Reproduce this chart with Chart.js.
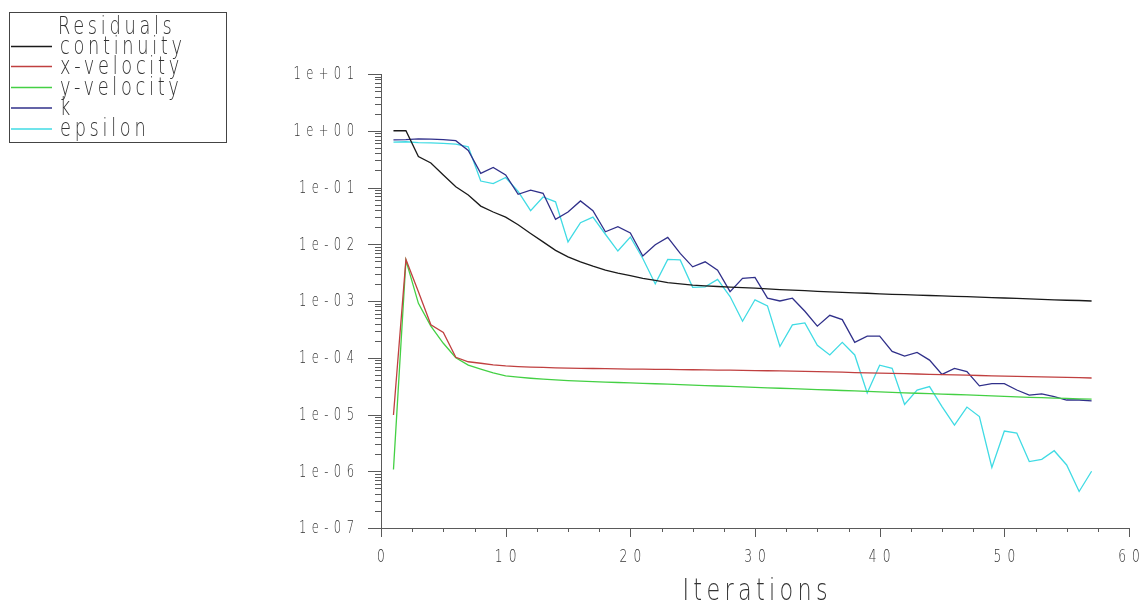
<!DOCTYPE html>
<html>
<head>
<meta charset="utf-8">
<script src="https://cdn.jsdelivr.net/npm/chart.js@4.4.1/dist/chart.umd.min.js"></script>
<style>
  html, body { margin: 0; padding: 0; background: #ffffff; }
  #wrap { width: 1143px; height: 605px; position: relative; }
  canvas { display: block; }
</style>
</head>
<body>
<div id="wrap"><canvas id="residuals" width="1143" height="605"></canvas></div>
<script>
// Solver residual history, one value per iteration
const iterations = [1,2,3,4,5,6,7,8,9,10,11,12,13,14,15,16,17,18,19,20,21,22,23,24,25,26,27,28,29,30,
  31,32,33,34,35,36,37,38,39,40,41,42,43,44,45,46,47,48,49,50,51,52,53,54,55,56,57];

const continuity = [1.0,1.0,0.35,0.27,0.166,0.103,0.074,0.047,0.037,0.030,
  0.022,0.0155,0.011,0.0078,0.006,0.0049,0.0041,0.0035,0.0031,0.0028,
  0.0025,0.0023,0.0021,0.0020,0.0019,0.00185,0.0018,0.00176,0.00172,0.00168,
  0.00163,0.00159,0.00155,0.00152,0.00148,0.00145,0.00142,0.00139,0.00137,0.00134,
  0.00131,0.00129,0.00127,0.00125,0.00123,0.00121,0.00119,0.00117,0.00115,0.00113,
  0.00111,0.00109,0.00107,0.00105,0.00103,0.00102,0.001];

const xVelocity = [9.8e-6,5.4e-3,1.45e-3,3.8e-4,2.8e-4,1.02e-4,8.5e-5,8.0e-5,7.5e-5,7.2e-5,
  7.0e-5,6.85e-5,6.75e-5,6.65e-5,6.58e-5,6.52e-5,6.46e-5,6.41e-5,6.36e-5,6.32e-5,
  6.29e-5,6.26e-5,6.23e-5,6.19e-5,6.15e-5,6.11e-5,6.07e-5,6.03e-5,5.99e-5,5.95e-5,
  5.9e-5,5.85e-5,5.8e-5,5.75e-5,5.7e-5,5.63e-5,5.56e-5,5.49e-5,5.42e-5,5.35e-5,
  5.29e-5,5.23e-5,5.17e-5,5.11e-5,5.05e-5,4.99e-5,4.93e-5,4.87e-5,4.81e-5,4.75e-5,
  4.7e-5,4.65e-5,4.6e-5,4.55e-5,4.5e-5,4.45e-5,4.4e-5];

const yVelocity = [1.07e-6,5.2e-3,9.1e-4,3.6e-4,1.8e-4,1.0e-4,7.4e-5,6.3e-5,5.4e-5,4.8e-5,
  4.55e-5,4.35e-5,4.2e-5,4.07e-5,3.96e-5,3.87e-5,3.8e-5,3.73e-5,3.66e-5,3.6e-5,
  3.54e-5,3.48e-5,3.42e-5,3.36e-5,3.3e-5,3.24e-5,3.18e-5,3.12e-5,3.06e-5,3.0e-5,
  2.95e-5,2.9e-5,2.85e-5,2.8e-5,2.75e-5,2.7e-5,2.65e-5,2.6e-5,2.55e-5,2.5e-5,
  2.45e-5,2.41e-5,2.37e-5,2.33e-5,2.29e-5,2.25e-5,2.21e-5,2.17e-5,2.13e-5,2.09e-5,
  2.05e-5,2.01e-5,1.98e-5,1.95e-5,1.92e-5,1.89e-5,1.86e-5];

const kResidual = [0.69,0.70,0.72,0.71,0.70,0.67,0.45,0.178,0.226,0.166,
  0.076,0.090,0.079,0.0275,0.037,0.058,0.039,0.0166,0.0204,0.0158,
  0.0062,0.0098,0.0132,0.0069,0.0040,0.0049,0.0035,0.00146,0.0025,0.0026,
  0.00112,0.0010,0.00112,0.00066,0.00036,0.00056,0.00047,0.000187,0.00024,0.00024,
  0.000129,0.000107,0.000124,9.1e-5,5.1e-5,6.5e-5,5.7e-5,3.2e-5,3.5e-5,3.5e-5,
  2.7e-5,2.2e-5,2.3e-5,2.06e-5,1.8e-5,1.8e-5,1.74e-5];

const epsilonResidual = [0.63,0.64,0.62,0.61,0.60,0.58,0.52,0.13,0.117,0.15,
  0.085,0.039,0.068,0.056,0.011,0.024,0.030,0.015,0.0076,0.0134,
  0.0056,0.0020,0.0054,0.0053,0.00174,0.00178,0.0024,0.0012,0.00044,0.00105,
  0.00082,0.000158,0.00038,0.00041,0.000166,0.000112,0.000187,0.000112,2.4e-5,7.4e-5,
  6.5e-5,1.5e-5,2.7e-5,3.1e-5,1.38e-5,6.5e-6,1.35e-5,9.2e-6,1.17e-6,5.1e-6,
  4.7e-6,1.48e-6,1.62e-6,2.3e-6,1.29e-6,4.4e-7,1.0e-6];

const seriesNames = ['continuity', 'x-velocity', 'y-velocity', 'k', 'epsilon'];
const seriesColors = ['#1a1a1a', '#c04040', '#44d044', '#30308a', '#40dbe4'];
const seriesValues = [continuity, xVelocity, yVelocity, kResidual, epsilonResidual];

const xTickValues = [0, 10, 20, 30, 40, 50, 60];
const xTickLabels = ['0', '10', '20', '30', '40', '50', '60'];
const yTickValues = [1e1, 1e0, 1e-1, 1e-2, 1e-3, 1e-4, 1e-5, 1e-6, 1e-7];
const yTickLabels = ['1e+01', '1e+00', '1e-01', '1e-02', '1e-03', '1e-04', '1e-05', '1e-06', '1e-07'];
const legendTitle = 'Residuals';
const xAxisTitle = 'Iterations';

const AXIS_COLOR = '#5a5a5a';
const TEXT_COLOR = '#333333';
const FONT_FAMILY = "'DejaVu Sans', sans-serif";

// Thin, condensed, letter-spaced text in the style of a stroke plotter font
function drawPlotText(ctx, str, x, y, opts) {
  const size = opts.size, sx = opts.sx, ls = opts.ls || 0;
  ctx.save();
  ctx.font = (opts.weight || '200') + ' ' + size + 'px ' + FONT_FAMILY;
  ctx.letterSpacing = ls + 'px';
  ctx.fillStyle = TEXT_COLOR;
  ctx.textBaseline = opts.baseline || 'middle';
  ctx.textAlign = 'left';
  const w = (ctx.measureText(str).width - ls) * sx;
  let x0 = x;
  if (opts.align === 'right') x0 = x - w;
  else if (opts.align === 'center') x0 = x - w / 2;
  ctx.translate(x0, y);
  ctx.scale(sx, 1);
  ctx.fillText(str, 0, 0);
  ctx.restore();
}

const axesPlugin = {
  id: 'plotAxes',
  beforeDatasetsDraw(chart) {
    const ctx = chart.ctx;
    const xs = chart.scales.x, ys = chart.scales.y;
    const left = chart.chartArea.left, bottom = chart.chartArea.bottom;
    const right = chart.chartArea.right, top = chart.chartArea.top;
    ctx.save();
    ctx.strokeStyle = AXIS_COLOR;
    ctx.lineWidth = 1;
    ctx.beginPath();
    ctx.moveTo(left + 0.5, top);
    ctx.lineTo(left + 0.5, bottom + 0.5);
    ctx.lineTo(right, bottom + 0.5);
    ctx.stroke();

    // y axis: decade ticks with labels, plus 2..9 minor ticks
    ctx.beginPath();
    for (let e = -7; e <= 1; e++) {
      const py = Math.round(ys.getPixelForValue(Math.pow(10, e))) + 0.5;
      ctx.moveTo(left - 13, py); ctx.lineTo(left, py);
      if (e < 1) {
        for (let m = 2; m <= 9; m++) {
          const pm = Math.round(ys.getPixelForValue(m * Math.pow(10, e))) + 0.5;
          ctx.moveTo(left - 6, pm); ctx.lineTo(left, pm);
        }
      }
    }
    // x axis: labelled ticks every 10, minor ticks every 2.5
    for (let v = 0; v <= 60; v += 2.5) {
      const px = Math.round(xs.getPixelForValue(v)) + 0.5;
      const len = (v % 10 === 0) ? 9 : 4;
      ctx.moveTo(px, bottom); ctx.lineTo(px, bottom + len);
    }
    ctx.stroke();
    ctx.restore();

    yTickValues.forEach((v, i) => {
      drawPlotText(ctx, yTickLabels[i], left - 27, ys.getPixelForValue(v) + 1,
        { size: 17, sx: 0.68, ls: 8, align: 'right' });
    });
    xTickValues.forEach((v, i) => {
      drawPlotText(ctx, xTickLabels[i], xs.getPixelForValue(v), bottom + 29,
        { size: 18, sx: 0.68, ls: 9, align: 'center' });
    });
    drawPlotText(ctx, xAxisTitle, (left + right) / 2, bottom + 64,
      { size: 31, sx: 0.72, ls: 6, align: 'center' });
  },
  afterDraw(chart) {
    // Boxed legend in the top-left corner
    const ctx = chart.ctx;
    const bx = 9, by = 12, bw = 217, bh = 130;
    ctx.save();
    ctx.strokeStyle = '#444';
    ctx.lineWidth = 1;
    ctx.strokeRect(bx + 0.5, by + 0.5, bw, bh);
    ctx.restore();
    drawPlotText(ctx, legendTitle, 58, 34, { size: 24, sx: 0.74, ls: 5, baseline: 'alphabetic' });
    const rowY = [46.5, 66.5, 87.5, 108, 129];
    seriesNames.forEach((name, i) => {
      ctx.save();
      ctx.strokeStyle = seriesColors[i];
      ctx.lineWidth = 1.3;
      ctx.beginPath();
      ctx.moveTo(11, rowY[i]); ctx.lineTo(52, rowY[i]);
      ctx.stroke();
      ctx.restore();
      drawPlotText(ctx, name, 60, rowY[i] + 7, { size: 24, sx: 0.74, ls: 5, baseline: 'alphabetic' });
    });
  }
};

const datasets = seriesNames.map((name, s) => ({
  label: name,
  data: iterations.map((it, i) => ({ x: it, y: seriesValues[s][i] })),
  borderColor: seriesColors[s],
  backgroundColor: seriesColors[s],
  borderWidth: 1.3,
  pointRadius: 0,
  tension: 0,
  fill: false
}));

new Chart(document.getElementById('residuals'), {
  type: 'line',
  data: { datasets },
  plugins: [axesPlugin],
  options: {
    responsive: false,
    animation: false,
    devicePixelRatio: 1,
    layout: { padding: { left: 381, top: 74, right: 14, bottom: 77 } },
    plugins: { legend: { display: false }, tooltip: { enabled: false } },
    scales: {
      x: { type: 'linear', min: 0, max: 60, display: false },
      y: { type: 'logarithmic', min: 1e-7, max: 10, display: false }
    }
  }
});
</script>
</body>
</html>
